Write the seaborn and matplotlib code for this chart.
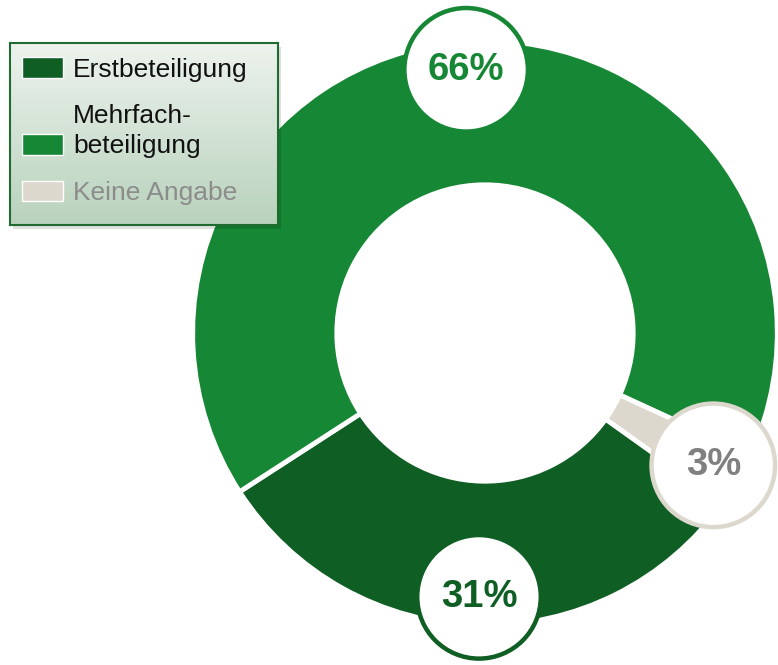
import numpy as np
import matplotlib.pyplot as plt
import seaborn as sns
from matplotlib.patches import Circle, Patch, Rectangle
from matplotlib.colors import LinearSegmentedColormap
from matplotlib.legend_handler import HandlerPatch

# data
labels = ["Erstbeteiligung", "Mehrfach-\nbeteiligung", "Keine Angabe"]
shares = [31, 66, 3]
value_labels = ["31%", "66%", "3%"]
colors = ["#0f5e24", "#168734", "#ddd8cd"]
text_colors = ["#0f5e24", "#168734", "#808080"]
legend_text_colors = ["#111111", "#111111", "#8c8c8c"]

sns.set_theme(style="white")
plt.rcParams['font.family'] = ['Liberation Sans', 'DejaVu Sans']

fig = plt.figure(figsize=(7.78, 6.65), dpi=100)
ax = fig.add_axes([0, 0, 1, 1])
ax.set_zorder(0)

wedges, _ = ax.pie(shares, colors=colors, startangle=-35.5, counterclock=False,
                   radius=1.008,
                   wedgeprops=dict(width=0.497, edgecolor='white', linewidth=3.5))

# label bubbles in the middle of each wedge
for w, lab, col, tc in zip(wedges, value_labels, colors, text_colors):
    ang = np.deg2rad((w.theta1 + w.theta2) / 2)
    x, y = 0.91 * np.cos(ang), 0.91 * np.sin(ang)
    ax.add_patch(Circle((x, y), 0.213, facecolor='white', edgecolor=col,
                        linewidth=3.2, zorder=5))
    ax.text(x, y, lab, ha='center', va='center', fontsize=27.5,
            fontweight='bold', color=tc, zorder=6)

ax.set_xlim(-485 / 290, 293 / 290)
ax.set_ylim(-332 / 290, 333 / 290)
ax.set_aspect('auto')
ax.axis('off')

# legend box with gradient
shadow = Rectangle((13 / 778, 1 - 229 / 665), 268 / 778, 182 / 665,
                   transform=fig.transFigure, facecolor='#000000', alpha=0.12,
                   edgecolor='none', zorder=0.5)
fig.add_artist(shadow)

lax = fig.add_axes([10 / 778, 1 - 225 / 665, 268 / 778, 182 / 665])
lax.set_zorder(1)
grad = np.linspace(0, 1, 256)[:, None]
cmap = LinearSegmentedColormap.from_list('g', ['#edf3ee', '#b8d2bc'])
lax.imshow(grad, aspect='auto', cmap=cmap, extent=[0, 1, 0, 1], origin='upper')
lax.set_xticks([])
lax.set_yticks([])
for s in lax.spines.values():
    s.set_color('#1f6b30')
    s.set_linewidth(1.5)


# handle next to the second line of a two-line label
def low_patch(legend, orig_handle, xdescent, ydescent, width, height, fontsize):
    return Rectangle((-xdescent, -ydescent - 9.5), width, height)


handles = [Patch(facecolor=c, edgecolor='white', linewidth=1) for c in colors]
leg = fig.legend(handles, labels, loc='upper left',
                 bbox_to_anchor=(22 / 778, 1 - 57 / 665), frameon=False,
                 fontsize=19, handlelength=1.55, handleheight=0.83,
                 handletextpad=0.38, labelspacing=0.86, borderpad=0,
                 borderaxespad=0,
                 handler_map={handles[1]: HandlerPatch(patch_func=low_patch)})
for t, c in zip(leg.get_texts(), legend_text_colors):
    t.set_color(c)
    t.set_linespacing(1.3)

fig.savefig("out.png", dpi=100)
